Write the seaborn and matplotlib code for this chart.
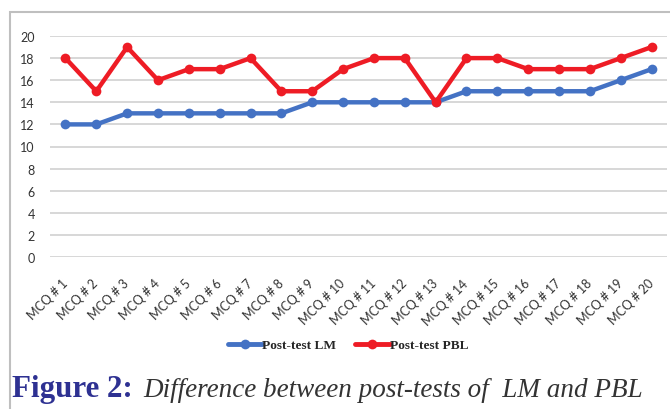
import pandas as pd
import numpy as np
import matplotlib
matplotlib.use("Agg")
import matplotlib.pyplot as plt
import matplotlib.transforms as mtrans
from matplotlib.lines import Line2D
from matplotlib.patches import Rectangle
import seaborn as sns

# data
questions = ["MCQ # %d" % i for i in range(1, 21)]
post_lm = [12, 12, 13, 13, 13, 13, 13, 13, 14, 14, 14, 14, 14, 15, 15, 15, 15, 15, 16, 17]
post_pbl = [18, 15, 19, 16, 17, 17, 18, 15, 15, 17, 18, 18, 14, 18, 18, 17, 17, 17, 18, 19]
series_names = ["Post-test LM", "Post-test PBL"]
colors = ["#4472C4", "#EE1C25"]

df = pd.DataFrame({"question": questions * 2,
                   "score": post_lm + post_pbl,
                   "series": [series_names[0]] * 20 + [series_names[1]] * 20})

sns.set_style("white")
plt.rcParams['font.family'] = ['Lato', 'DejaVu Sans']

fig = plt.figure(figsize=(6.7, 4.1), dpi=100)
ax = fig.add_axes([50 / 670, 1 - 258 / 410, 617 / 670, 221 / 410])

sns.lineplot(data=df, x="question", y="score", hue="series", palette=colors,
             marker="o", markersize=7, markeredgewidth=0, linewidth=3.2,
             sort=False, legend=False, ax=ax, zorder=3)

ax.set_ylim(0, 20)
ax.set_yticks(range(0, 21, 2))
ax.set_xlim(-0.5, 19.5)
ax.grid(axis="y", color="#d4d4d4", linewidth=1.3)
ax.grid(axis="x", visible=False)
for s in ax.spines.values():
    s.set_visible(False)
ax.set_xlabel("")
ax.set_ylabel("")
ax.tick_params(axis="both", length=0, labelsize=9, colors="#333333")
ax.tick_params(axis="y", pad=11)
ax.tick_params(axis="x", pad=0)
ax.set_xticks(range(20))
ax.set_xticklabels(questions, rotation=45, ha="right", va="center", rotation_mode="anchor")
off = mtrans.ScaledTranslation(0 / 100, -24 / 100, fig.dpi_scale_trans)
for lab in ax.get_xticklabels():
    lab.set_transform(lab.get_transform() + off)

# chart frame
fig.patches.append(Rectangle((10 / 670, -0.05), 1.0, 1 - 13 / 410 + 0.05,
                             transform=fig.transFigure, fill=False,
                             edgecolor="#bfbfbf", linewidth=1.5))

handles = [Line2D([0], [0], color=c, linewidth=3.5, marker="o", markersize=7,
                  markeredgewidth=0) for c in colors]
fig.legend(handles, series_names, loc="center", bbox_to_anchor=(348 / 670, 1 - 346 / 410),
           ncol=2, frameon=False, handlelength=2.6, handletextpad=0.0, columnspacing=1.4,
           prop={"family": "Liberation Serif", "weight": "bold", "size": 9.6})

fig.text(12 / 670, 1 - 397 / 410, "Figure 2:", family="Liberation Serif",
         weight="bold", size=22.3, color="#2E3192", va="baseline")
fig.text(143 / 670, 1 - 397 / 410, "Difference between post-tests of  LM and PBL",
         family="Liberation Serif", style="italic", size=19.5, color="#333333",
         va="baseline")

fig.savefig("out.png", dpi=100)
